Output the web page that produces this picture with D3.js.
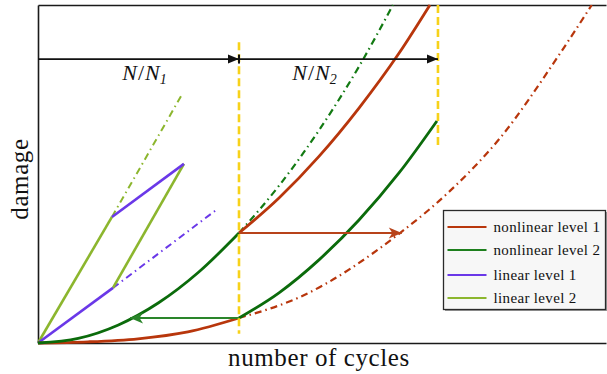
<!DOCTYPE html>
<html>
<head>
<meta charset="utf-8">
<script src="https://cdn.jsdelivr.net/npm/d3@7"></script>
<style>
  body { margin: 0; background: #fff; }
</style>
</head>
<body>
<div id="chart"></div>
<script>
// damage vs. number of cycles, x in units of N1, y damage 0..1

var seriesNames = ["nonlinear level 1", "nonlinear level 2", "linear level 1", "linear level 2"];
var seriesColors = ["#b8360c", "#1d7f1d", "#6a38e8", "#8cb62e"];

// nonlinear level 1 (red)
var nl1Solid = [[0, 0], [0.249, 0.0035], [0.498, 0.0125], [0.746, 0.033], [1.0, 0.074]];
var nl1Dash = [[1.0, 0.074], [1.303, 0.136], [1.801, 0.3254], [2.050, 0.450], [2.299, 0.6065], [2.582, 0.843], [2.755, 1.0]];
var nl1Shift = [[1.0, 0.3254], [1.199, 0.429], [1.398, 0.552], [1.597, 0.695], [1.796, 0.857], [1.950, 1.0]];

// nonlinear level 2 (green)
var nl2Solid = [[0, 0], [0.2, 0.0137], [0.4, 0.0535], [0.6, 0.119], [0.8, 0.21], [1.0, 0.3254]];
var nl2Dash = [[1.0, 0.3254], [1.2, 0.466], [1.4, 0.631], [1.6, 0.821], [1.766, 1.0]];
var nl2Shift = [[1.0, 0.074], [1.199, 0.1485], [1.398, 0.246], [1.597, 0.364], [1.796, 0.503], [1.985, 0.657]];

// linear rules
var lin2Solid = [[0, 0], [0.368, 0.373]];
var lin2Dash = [[0.368, 0.373], [0.721, 0.740]];
var lin1Solid = [[0, 0], [0.373, 0.163]];
var lin1Dash = [[0.373, 0.163], [0.881, 0.391]];
var lin1Step = [[0.368, 0.373], [0.726, 0.530]];
var lin2Step = [[0.373, 0.163], [0.726, 0.530]];

// transfer arrows
var redArrow = [[1.0, 0.3254], [1.81, 0.3254]];
var greenArrow = [[1.0, 0.074], [0.458, 0.074]];

// cycle ratio markers
var blockEnds = [1.0, 1.99];
var markerTop = [0.89, 1.0];
var markerBottom = [0.027, 0.583];
var ratioY = 0.84;
var ratioLabels = ["1", "2"];

var serif = "'Liberation Serif', 'DejaVu Serif', serif";

var margin = {top: 5, right: 1, bottom: 31, left: 38},
    width = 607 - margin.left - margin.right,
    height = 374 - margin.top - margin.bottom;

var svg = d3.select("#chart")
  .append("svg")
    .attr("width", width + margin.left + margin.right)
    .attr("height", height + margin.top + margin.bottom);

var defs = svg.append("defs");
function marker(id, color, path, refX) {
  defs.append("marker")
    .attr("id", id)
    .attr("viewBox", "-1 -7 16 14")
    .attr("markerWidth", 16).attr("markerHeight", 14)
    .attr("markerUnits", "userSpaceOnUse")
    .attr("refX", refX).attr("refY", 0)
    .attr("orient", "auto")
    .append("path").attr("d", path).attr("fill", color);
}
marker("arrBlack", "#111", "M0,-4.5L11,0L0,4.5Z", 11);
marker("arrRed", "#b8431a", "M0,-5.5L13,0L0,5.5L3.5,0Z", 13);
marker("arrGreen", "#2a852a", "M0,-5.5L13,0L0,5.5L3.5,0Z", 13);

var g = svg.append("g")
  .attr("transform", "translate(" + margin.left + "," + margin.top + ")");

var x = d3.scaleLinear().domain([0, 2.826]).range([0, width]);
var y = d3.scaleLinear().domain([0, 1]).range([height, 0]);

// frame (no ticks)
g.append("g").attr("transform", "translate(0," + height + ")")
  .call(d3.axisBottom(x).tickValues([]).tickSizeOuter(0));
g.append("g").call(d3.axisTop(x).tickValues([]).tickSizeOuter(0));
g.append("g").call(d3.axisLeft(y).tickValues([]).tickSizeOuter(0));
g.selectAll(".domain").attr("stroke", "#1a1a1a").attr("stroke-width", 1.6);

var smooth = d3.line().x(function(d) { return x(d[0]); }).y(function(d) { return y(d[1]); })
  .curve(d3.curveMonotoneX);
var straight = d3.line().x(function(d) { return x(d[0]); }).y(function(d) { return y(d[1]); });

var dashDot = "7,4,1.5,4";

function draw(data, gen, color, w, dash, mk) {
  var p = g.append("path")
    .attr("d", gen(data))
    .attr("fill", "none")
    .attr("stroke", color)
    .attr("stroke-width", w);
  if (dash) p.attr("stroke-dasharray", dash);
  if (mk) p.attr("marker-end", "url(#" + mk + ")");
  return p;
}

// linear level 2 / level 1
draw(lin2Dash, straight, seriesColors[3], 2, dashDot);
draw(lin1Dash, straight, seriesColors[2], 2, dashDot);
draw(lin2Solid, straight, seriesColors[3], 2.6);
draw(lin2Step, straight, seriesColors[3], 2.6);
draw(lin1Solid, straight, seriesColors[2], 2.6);
draw(lin1Step, straight, seriesColors[2], 2.6);

// nonlinear curves
draw(nl1Dash, smooth, "#b8360c", 2.2, dashDot);
draw(nl2Dash, smooth, "#137a13", 2.2, dashDot);
draw(nl1Solid, smooth, "#b8360c", 2.8);
draw(nl2Solid, smooth, "#0b6b0b", 2.8);
draw(nl1Shift, smooth, "#b8360c", 2.8);
draw(nl2Shift, smooth, "#0b6b0b", 2.8);

// transfer arrows
draw(redArrow, straight, "#b8431a", 2, null, "arrRed");
draw(greenArrow, straight, "#2a852a", 2, null, "arrGreen");

// yellow block ends
g.selectAll(".blockEnd")
  .data(blockEnds)
  .enter()
  .append("line")
    .attr("x1", function(d) { return x(d); })
    .attr("x2", function(d) { return x(d); })
    .attr("y1", function(d, i) { return y(markerTop[i]); })
    .attr("y2", function(d, i) { return y(markerBottom[i]); })
    .attr("stroke", "#f7d21a")
    .attr("stroke-width", 2.6)
    .attr("stroke-dasharray", "8,4");

// N/Ni arrows
var starts = [0].concat(blockEnds.slice(0, -1));
starts.forEach(function(s, i) {
  draw([[s, ratioY], [blockEnds[i], ratioY]], straight, "#111", 1.6, null, "arrBlack");
});
g.append("line")
  .attr("x1", x(blockEnds[0])).attr("x2", x(blockEnds[0]))
  .attr("y1", y(ratioY) - 4.5).attr("y2", y(ratioY) + 4.5)
  .attr("stroke", "#111").attr("stroke-width", 2);

starts.forEach(function(s, i) {
  var t = g.append("text")
    .attr("x", x((s + blockEnds[i]) / 2) + (i === 0 ? 6 : -24))
    .attr("y", y(ratioY) + 21)
    .attr("text-anchor", "middle")
    .style("font-family", serif)
    .attr("fill", "#111")
    .attr("font-size", "22px")
    .attr("font-style", "italic");
  t.append("tspan").text("N");
  t.append("tspan").attr("font-style", "normal").attr("dx", 1).text("/");
  t.append("tspan").attr("dx", 1).text("N");
  t.append("tspan").attr("font-size", "14px").attr("dy", 4).text(ratioLabels[i]);
});

// axis titles
svg.append("text")
  .attr("x", margin.left + width / 2 - 3)
  .attr("y", 366)
  .attr("text-anchor", "middle")
  .style("font-family", serif)
  .attr("fill", "#111")
  .attr("font-size", "25px")
  .attr("letter-spacing", "0.6px")
  .text("number of cycles");

svg.append("text")
  .attr("transform", "translate(28,179)rotate(-90)")
  .attr("text-anchor", "middle")
  .style("font-family", serif)
  .attr("fill", "#111")
  .attr("font-size", "25px")
  .attr("letter-spacing", "0.6px")
  .text("damage");

// legend
var legend = svg.append("g").attr("transform", "translate(443.5,210.5)");
legend.append("rect")
  .attr("x", 1.5).attr("y", 1.5).attr("width", 162).attr("height", 99)
  .attr("fill", "#9a9a9a");
legend.append("rect")
  .attr("width", 162).attr("height", 99)
  .attr("fill", "#f7f7f7")
  .attr("stroke", "#2a2a2a")
  .attr("stroke-width", 1.3);
var rowY = [16.5, 39.5, 64.5, 87.5];
legend.selectAll(".key")
  .data(seriesNames)
  .enter()
  .append("line")
    .attr("x1", 4).attr("x2", 43)
    .attr("y1", function(d, i) { return rowY[i]; })
    .attr("y2", function(d, i) { return rowY[i]; })
    .attr("stroke", function(d, i) { return seriesColors[i]; })
    .attr("stroke-width", 2);
legend.selectAll(".label")
  .data(seriesNames)
  .enter()
  .append("text")
    .attr("x", 50)
    .attr("y", function(d, i) { return rowY[i] + 5; })
    .style("font-family", serif)
    .attr("fill", "#111")
    .attr("font-size", "15px")
    .attr("letter-spacing", "0.35px")
    .text(function(d) { return d; });
</script>
</body>
</html>
